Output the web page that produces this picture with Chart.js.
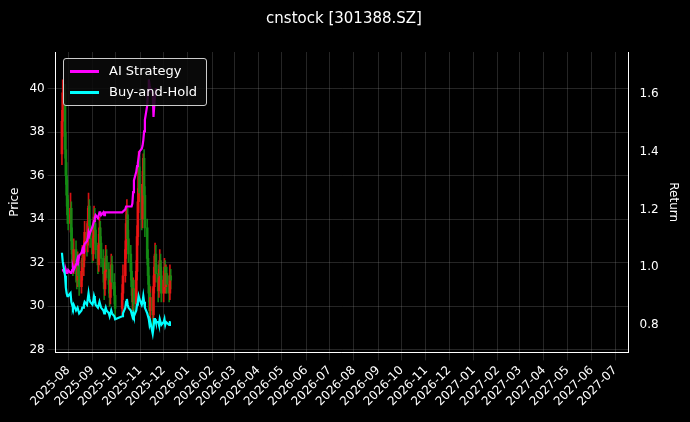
<!DOCTYPE html>
<html><head><meta charset="utf-8">
<script src="https://cdn.jsdelivr.net/npm/chart.js@4"></script>
<style>
html,body{margin:0;padding:0;background:#000;}
#wrap{position:relative;width:690px;height:422px;}
#lg{position:absolute;left:63px;top:58px;background:rgba(10,10,10,0.85);border:1px solid #ccc;border-radius:3px;padding:2px 9px 3px 6px;font:13px "DejaVu Sans";color:#fff;line-height:20.5px;}
#lg span.sw{display:inline-block;width:29px;height:3px;vertical-align:middle;margin-right:10px;}
</style></head><body>
<div id="wrap"><canvas id="c" width="690" height="422"></canvas>
<div id="lg"><div><span class="sw" style="background:#ff00ff"></span>AI Strategy</div><div><span class="sw" style="background:#00ffff"></span>Buy-and-Hold</div></div></div>
<script>
const openP=[37.0,38.5,39.8,37.2,36.0,35.1,34.2,33.8,34.5,33.0,32.4,31.8,32.6,31.5,31.2,32.0,31.4,30.9,31.6,32.2,
31.8,32.5,33.4,32.8,33.9,34.6,33.7,33.1,32.4,33.2,34.1,33.5,32.6,31.9,32.8,33.6,32.9,32.2,31.5,30.8,31.6,32.3,
31.7,31.0,30.4,31.2,31.9,31.1,30.5,29.9,30.6,31.4,32.6,33.8,34.2,33.1,32.4,31.6,30.9,
30.2,30.8,30.1,31.6,33.2,34.8,36.4,35.2,34.0,35.6,36.8,35.1,33.6,32.2,31.4,30.6,29.8,30.4,29.6,30.9,
31.8,32.4,31.5,30.7,31.3,32.1,31.4,30.6,31.2,31.8,30.9,31.5,31.0,30.6,31.4];
const closeP=[38.5,39.8,37.2,36.0,35.1,34.2,33.8,34.5,33.0,32.4,31.8,32.6,31.5,31.2,32.0,31.4,30.9,31.6,32.2,31.8,
32.5,33.4,32.8,33.9,34.6,33.7,33.1,32.4,33.2,34.1,33.5,32.6,31.9,32.8,33.6,32.9,32.2,31.5,30.8,31.6,32.3,31.7,
31.0,30.4,31.2,31.9,31.1,30.5,29.9,30.6,31.4,32.6,33.8,34.2,33.1,32.4,31.6,30.9,30.2,
30.8,30.1,31.6,33.2,34.8,36.4,35.2,34.0,35.6,36.8,35.1,33.6,32.2,31.4,30.6,29.8,30.4,29.6,30.9,31.8,
32.4,31.5,30.7,31.3,32.1,31.4,30.6,31.2,31.8,30.9,31.5,31.0,30.6,31.4,31.2];
const highP=[39.0,40.4,40.2,38.0,36.6,35.8,34.9,35.2,34.8,33.6,32.9,33.1,33.0,32.1,32.5,32.4,31.9,32.1,32.8,32.6,
33.0,33.9,33.8,34.5,35.2,34.9,34.0,33.5,33.7,34.6,34.5,33.8,32.9,33.3,34.1,33.9,33.2,32.6,31.9,32.0,32.8,32.6,
32.0,31.4,31.7,32.4,32.3,31.5,30.9,31.0,31.9,33.0,34.4,34.9,34.5,33.5,32.8,32.0,31.3,
31.3,31.2,32.1,33.7,35.4,37.1,36.9,35.6,36.2,37.0,37.2,35.5,34.0,32.6,31.8,31.0,30.9,30.8,31.4,32.3,
32.9,32.8,31.9,31.7,32.6,32.4,31.8,31.6,32.2,32.1,31.9,31.8,31.4,31.9,31.7];
const lowP=[36.5,37.8,36.8,35.6,34.6,33.8,33.5,33.4,32.6,32.0,31.4,31.5,31.1,30.8,30.9,31.0,30.5,30.6,31.2,31.4,
31.4,32.1,32.3,32.5,33.5,33.2,32.7,32.0,32.1,32.9,33.0,32.2,31.5,31.6,32.4,32.5,31.8,31.1,30.3,30.5,31.2,31.3,
30.6,30.0,30.1,30.9,30.8,30.1,29.5,29.6,30.3,31.1,32.2,33.5,32.8,32.0,31.2,30.5,29.8,
29.8,29.7,29.9,31.2,32.8,34.3,34.8,33.5,33.6,35.2,34.7,33.2,31.9,31.0,30.2,29.4,29.4,29.1,29.3,30.6,
31.5,31.1,30.2,30.4,30.9,31.0,30.2,30.2,30.8,30.6,30.6,30.6,30.2,30.3,30.8];
const buyHold=[1.05,1.02,0.97,0.93,0.91,0.90,0.90,0.91,0.88,0.87,0.86,0.87,0.85,0.85,0.86,0.85,0.84,0.85,0.86,0.86,
0.87,0.88,0.87,0.89,0.91,0.89,0.88,0.87,0.88,0.90,0.89,0.87,0.86,0.87,0.88,0.87,0.86,0.85,0.84,0.85,0.86,0.85,
0.84,0.83,0.84,0.85,0.84,0.83,0.82,0.83,0.84,0.86,0.88,0.89,0.87,0.86,0.85,0.84,0.83,
0.84,0.83,0.85,0.87,0.88,0.90,0.89,0.87,0.88,0.90,0.88,0.86,0.84,0.83,0.82,0.80,0.81,0.77,0.79,0.82,
0.82,0.81,0.81,0.80,0.82,0.81,0.80,0.81,0.82,0.80,0.81,0.81,0.80,0.81,0.81];
const aiStrategy=[0.99,0.99,0.98,0.99,0.98,0.98,0.99,0.98,0.98,0.99,1.00,0.99,1.01,1.02,1.03,1.02,1.04,1.05,1.06,1.05,
1.07,1.08,1.09,1.10,1.12,1.11,1.12,1.14,1.15,1.16,1.17,1.18,1.17,1.18,1.19,1.19,1.18,1.19,1.18,1.19,1.19,1.19,
1.19,1.19,1.19,1.19,1.19,1.19,1.19,1.19,1.19,1.20,1.21,1.21,1.21,1.21,1.21,1.21,1.22,
1.26,1.30,1.33,1.35,1.36,1.38,1.40,1.41,1.42,1.44,1.47,1.51,1.56,1.61,1.65,1.63,1.62,1.60,1.52,1.56,
1.60,1.62,null,null,null,null,null,null,null,null,null,null,null,null,null];
// trading dates: weekdays from 2025-07-24, skipping the 2025-10-01..10-08 holiday
const dates=[];
for(let t=Date.UTC(2025,6,24);dates.length<closeP.length;t+=86400000){
  const d=new Date(t),wd=d.getUTCDay();
  if(wd===0||wd===6)continue;
  if(t>=Date.UTC(2025,9,1)&&t<=Date.UTC(2025,9,8))continue;
  dates.push(t);
}
const monthTicks=[];
for(let i=0;i<24;i++)monthTicks.push(Date.UTC(2025,7+i,1));
const fmt=v=>{const d=new Date(v);return d.getUTCFullYear()+'-'+String(d.getUTCMonth()+1).padStart(2,'0');};
const up=dates.map((t,i)=>closeP[i]>=openP[i]);
const colUp='rgba(235,20,20,0.9)',colDn='rgba(20,140,20,0.9)';
const cols=up.map(u=>u?colUp:colDn);
const grid={color:'rgba(140,140,140,0.45)',borderDash:[3,3],lineWidth:0.6};
new Chart(document.getElementById('c'),{
  data:{datasets:[
    {type:'bar',data:dates.map((t,i)=>({x:t,y:[lowP[i],highP[i]]})),backgroundColor:cols,barThickness:1,yAxisID:'y',grouped:false,order:3},
    {type:'bar',data:dates.map((t,i)=>({x:t,y:[Math.min(openP[i],closeP[i]),Math.max(openP[i],closeP[i])]})),backgroundColor:cols,barThickness:2,yAxisID:'y',grouped:false,order:2},
    {type:'line',data:dates.map((t,i)=>({x:t,y:aiStrategy[i]})),borderColor:'#ff00ff',borderWidth:2.2,pointRadius:0,yAxisID:'y1',order:1,spanGaps:false},
    {type:'line',data:dates.map((t,i)=>({x:t,y:buyHold[i]})),borderColor:'#00ffff',borderWidth:2.2,pointRadius:0,yAxisID:'y1',order:0}
  ]},
  options:{responsive:false,animation:false,
    layout:{padding:{left:4,right:6,top:4,bottom:10}},
    plugins:{legend:{display:false},tooltip:{enabled:false},
      title:{display:true,text:'cnstock [301388.SZ]',color:'#fff',font:{family:'DejaVu Sans',size:15,weight:'normal'},padding:{top:6,bottom:24}}},
    scales:{
      x:{type:'linear',offset:false,min:Date.UTC(2025,6,16),max:Date.UTC(2027,6,18),
        afterBuildTicks:a=>{a.ticks=monthTicks.map(v=>({value:v}));},
        ticks:{color:'#fff',font:{family:'DejaVu Sans',size:12},maxRotation:45,minRotation:45,autoSkip:false,callback:v=>fmt(v)},
        grid:Object.assign({offset:false},grid),border:{color:'#fff'}},
      y:{position:'left',min:27.88,max:41.68,
        afterBuildTicks:a=>{a.ticks=[28,30,32,34,36,38,40].map(v=>({value:v}));},
        ticks:{color:'#fff',font:{family:'DejaVu Sans',size:12}},
        title:{display:true,text:'Price',color:'#fff',font:{family:'DejaVu Sans',size:12}},
        grid:grid,border:{color:'#fff'}},
      y1:{position:'right',min:0.705,max:1.745,
        afterBuildTicks:a=>{a.ticks=[0.8,1.0,1.2,1.4,1.6].map(v=>({value:v}));},
        ticks:{color:'#fff',font:{family:'DejaVu Sans',size:12},callback:v=>v.toFixed(1)},
        title:{display:true,text:'Return',color:'#fff',font:{family:'DejaVu Sans',size:12}},
        grid:{display:false},border:{color:'#fff'}}
    }
  },
  plugins:[{id:'bg',beforeDraw:c=>{const x=c.ctx;x.save();x.fillStyle='#000';x.fillRect(0,0,c.width,c.height);x.restore();}}]
});
</script></body></html>
